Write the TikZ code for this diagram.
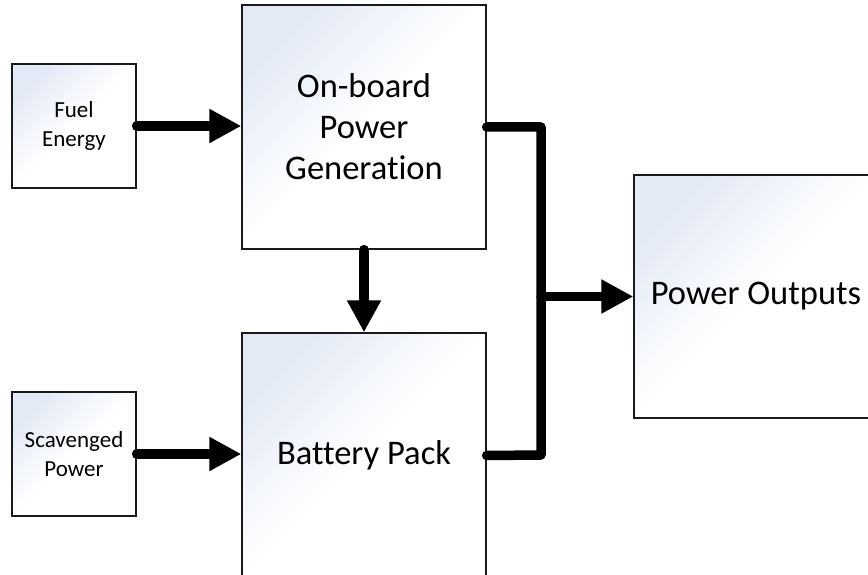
\documentclass[tikz,border=0pt]{standalone}
\usepackage{fontspec}
\setmainfont{Carlito}[Ligatures=NoCommon]
\usetikzlibrary{arrows.meta}
\definecolor{gradblue}{HTML}{E3EAF6}
\definecolor{boxline}{HTML}{1A1A1A}
\tikzset{
  blockbox/.style={draw=boxline, line width=1.3pt, inner sep=0pt, align=center,
    shading=axis, top color=gradblue, bottom color=white, middle color=white, shading angle=45},
  bigbox/.style={blockbox, minimum width=244pt, minimum height=244pt,
    font=\fontsize{34.5}{41}\selectfont},
  smallbox/.style={blockbox, minimum width=124pt, minimum height=124pt,
    font=\fontsize{23}{29}\selectfont},
  flow/.style={line width=9.5pt, line cap=round, line join=round,
    -{Triangle[length=32pt,width=32pt]}},
  bus/.style={line width=9.5pt, line cap=round, line join=round}
}
\begin{document}
\begin{tikzpicture}[x=1pt, y=-1pt]
\useasboundingbox (0,0) rectangle (868,575);
\begin{scope}
\clip (0,0) rectangle (868,575);
\node[smallbox] (fuel) at (74,126) {Fuel\\Energy};
\node[smallbox] (scav) at (74,454) {Scavenged\\Power};
\node[bigbox] (gen) at (364,127) {On-board\\Power\\Generation};
\node[bigbox, minimum height=245pt] (bat) at (364,455.5) {Battery Pack};
\node[bigbox, minimum height=243pt] (out) at (756,296.5) {Power Outputs};
\coordinate (bt) at (541,127);
\coordinate (bb) at (541,455);
\coordinate (bm) at (541,296.5);
\draw[flow] (fuel.east) -- (fuel.east -| gen.west);
\draw[flow] (scav.east) -- (scav.east -| bat.west);
\draw[flow] (gen.south) -- (bat.north);
\draw[bus] (gen.east) -- (bt) -- (bb) -- (bat.east);
\draw[flow] (bm) -- (out.west);
\end{scope}
\end{tikzpicture}
\end{document}
